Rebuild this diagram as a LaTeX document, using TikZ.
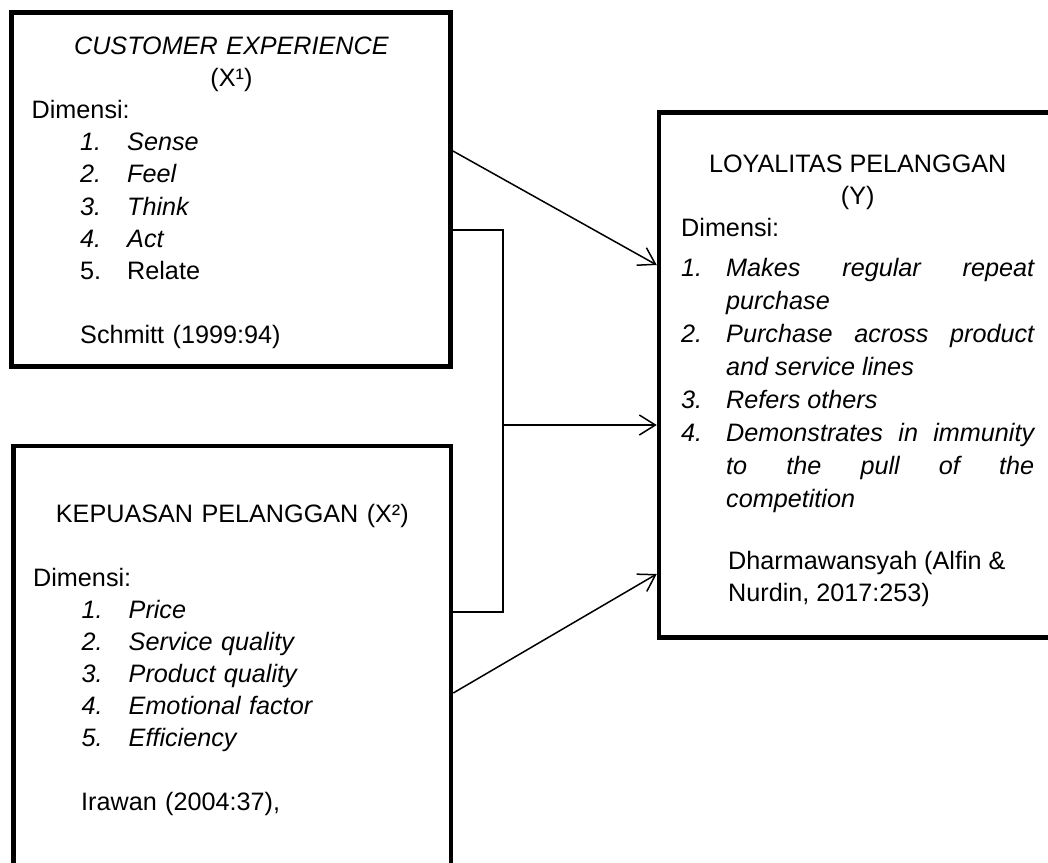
\documentclass[tikz,border=0pt]{standalone}
\usepackage{fontspec}
\setmainfont{Liberation Sans}
\usetikzlibrary{arrows.meta}

\newcommand{\dimitem}[2]{\noindent\hspace*{48.5pt}\makebox[47pt][l]{#1}#2\par}
\newcommand{\loyitem}[2]{\hangindent=45pt\hangafter=1\noindent\makebox[45pt][l]{#1}#2\par}

\begin{document}
\begin{tikzpicture}[x=1pt,y=-1pt,
  box/.style={draw,line width=4.5pt,inner sep=0pt},
  txt/.style={inner sep=0pt,anchor=base west,font=\fontsize{25.2pt}{32.2pt}\selectfont},
  conn/.style={line width=1.5pt},
  >={Straight Barb[length=16pt,width=20pt]}]
\useasboundingbox (0,0) rectangle (1048,862);
\clip (0,0) rectangle (1048,862);
% boxes
\node[box,minimum width=439pt,minimum height=354pt] (cx) at (231.2,189.5) {};
\node[box,minimum width=437.7pt,minimum height=454pt] (kp) at (232.15,673) {};
\node[box,minimum width=441pt,minimum height=525pt] (ly) at (879.5,375) {};
% box texts
\node[txt,text width=399.4pt] (cxtext) at (31.5,54) {%
  \centerline{\itshape CUSTOMER EXPERIENCE}
  \centerline{(X¹)}
  \noindent Dimensi:\par
  \dimitem{\textit{1.}}{\textit{Sense}}
  \dimitem{\textit{2.}}{\textit{Feel}}
  \dimitem{\textit{3.}}{\textit{Think}}
  \dimitem{\textit{4.}}{\textit{Act}}
  \dimitem{5.}{Relate}
  \mbox{}\par
  \noindent\hspace*{48.5pt}Schmitt (1999:94)};
\node[txt,text width=398.3pt,font=\fontsize{25.2pt}{32pt}\selectfont] (kptext) at (33,522) {%
  \centerline{KEPUASAN PELANGGAN (X²)}
  \mbox{}\par
  \noindent Dimensi:\par
  \dimitem{\textit{1.}}{\textit{Price}}
  \dimitem{\textit{2.}}{\textit{Service quality}}
  \dimitem{\textit{3.}}{\textit{Product quality}}
  \dimitem{\textit{4.}}{\textit{Emotional factor}}
  \dimitem{\textit{5.}}{\textit{Efficiency}}
  \mbox{}\par
  \noindent\hspace*{48pt}Irawan (2004:37),};
\node[txt,text width=353pt,align=justify] (lytext) at (681,172) {%
  \centerline{LOYALITAS PELANGGAN}
  \centerline{(Y)}
  \noindent Dimensi:\par
  \vspace{7pt}
  \itshape\baselineskip=33pt\hyphenpenalty=10000
  \loyitem{1.}{Makes regular repeat\linebreak purchase}
  \loyitem{2.}{Purchase across product\linebreak and service lines}
  \loyitem{3.}{Refers others}
  \loyitem{4.}{Demonstrates in immunity\linebreak to the pull of the\linebreak competition}
  \upshape\baselineskip=31pt
  \mbox{}\par
  \noindent\hspace*{47pt}Dharmawansyah (Alfin \&\par
  \noindent\hspace*{47pt}Nurdin, 2017:253)};
% connectors
\coordinate (jn) at (503,425);
\draw[conn,->] ([yshift=-140.75pt]cx.north east) -- ([yshift=-154.75pt]ly.north west);
\draw[conn] ([yshift=-219.75pt]cx.north east) -| (jn) |- ([yshift=-168.25pt]kp.north east);
\draw[conn,->] (jn) -- (jn -| ly.west);
\draw[conn,->] ([yshift=-249.25pt]kp.north east) -- ([yshift=-463.75pt]ly.north west);
\end{tikzpicture}
\end{document}
